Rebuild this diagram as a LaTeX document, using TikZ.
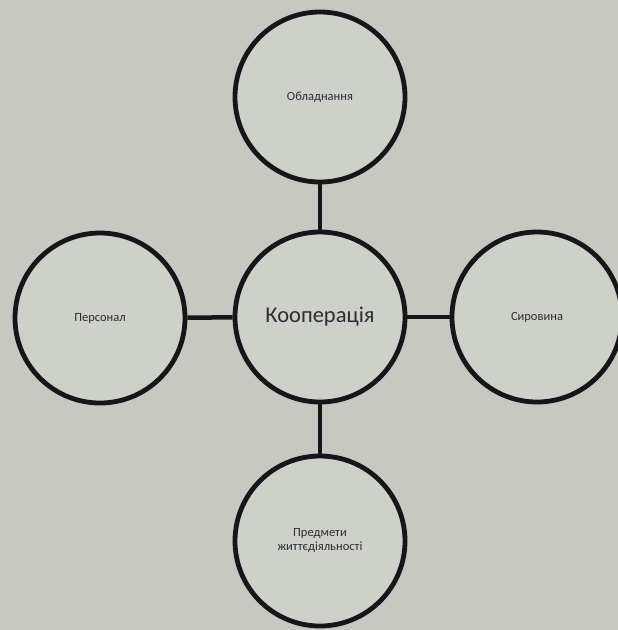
\documentclass[tikz,border=0pt]{standalone}
\usepackage{fontspec}
\setmainfont{Carlito}
\definecolor{bg}{RGB}{198,200,193}
\definecolor{inner}{RGB}{206,208,202}
\definecolor{ink}{RGB}{22,22,26}
\definecolor{txt}{RGB}{45,45,50}
\begin{document}
\begin{tikzpicture}[x=1pt,y=-1pt,
  bubble/.style={circle,draw=ink,line width=4.8pt,fill=inner,minimum size=170pt,inner sep=0pt,text=txt,align=center,font=\fontsize{12.5}{14}\selectfont},
  link/.style={draw=ink,line width=4.5pt}]
\fill[bg] (0,0) rectangle (618,630);
\useasboundingbox (0,0) rectangle (618,630);
\node[bubble] (top) at (320,97) {Обладнання};
\node[bubble] (left) at (100,318) {Персонал};
\node[bubble] (right) at (537,317) {Сировина};
\node[bubble] (bot) at (320,541) {Предмети\\життєдіяльності};
\node[bubble,font=\fontsize{22.5}{26}\selectfont] (c) at (320,317) {Кооперація};
\draw[link] (c) -- (top);
\draw[link] (c) -- (left);
\draw[link] (c) -- (right);
\draw[link] (c) -- (bot);
\end{tikzpicture}
\end{document}
